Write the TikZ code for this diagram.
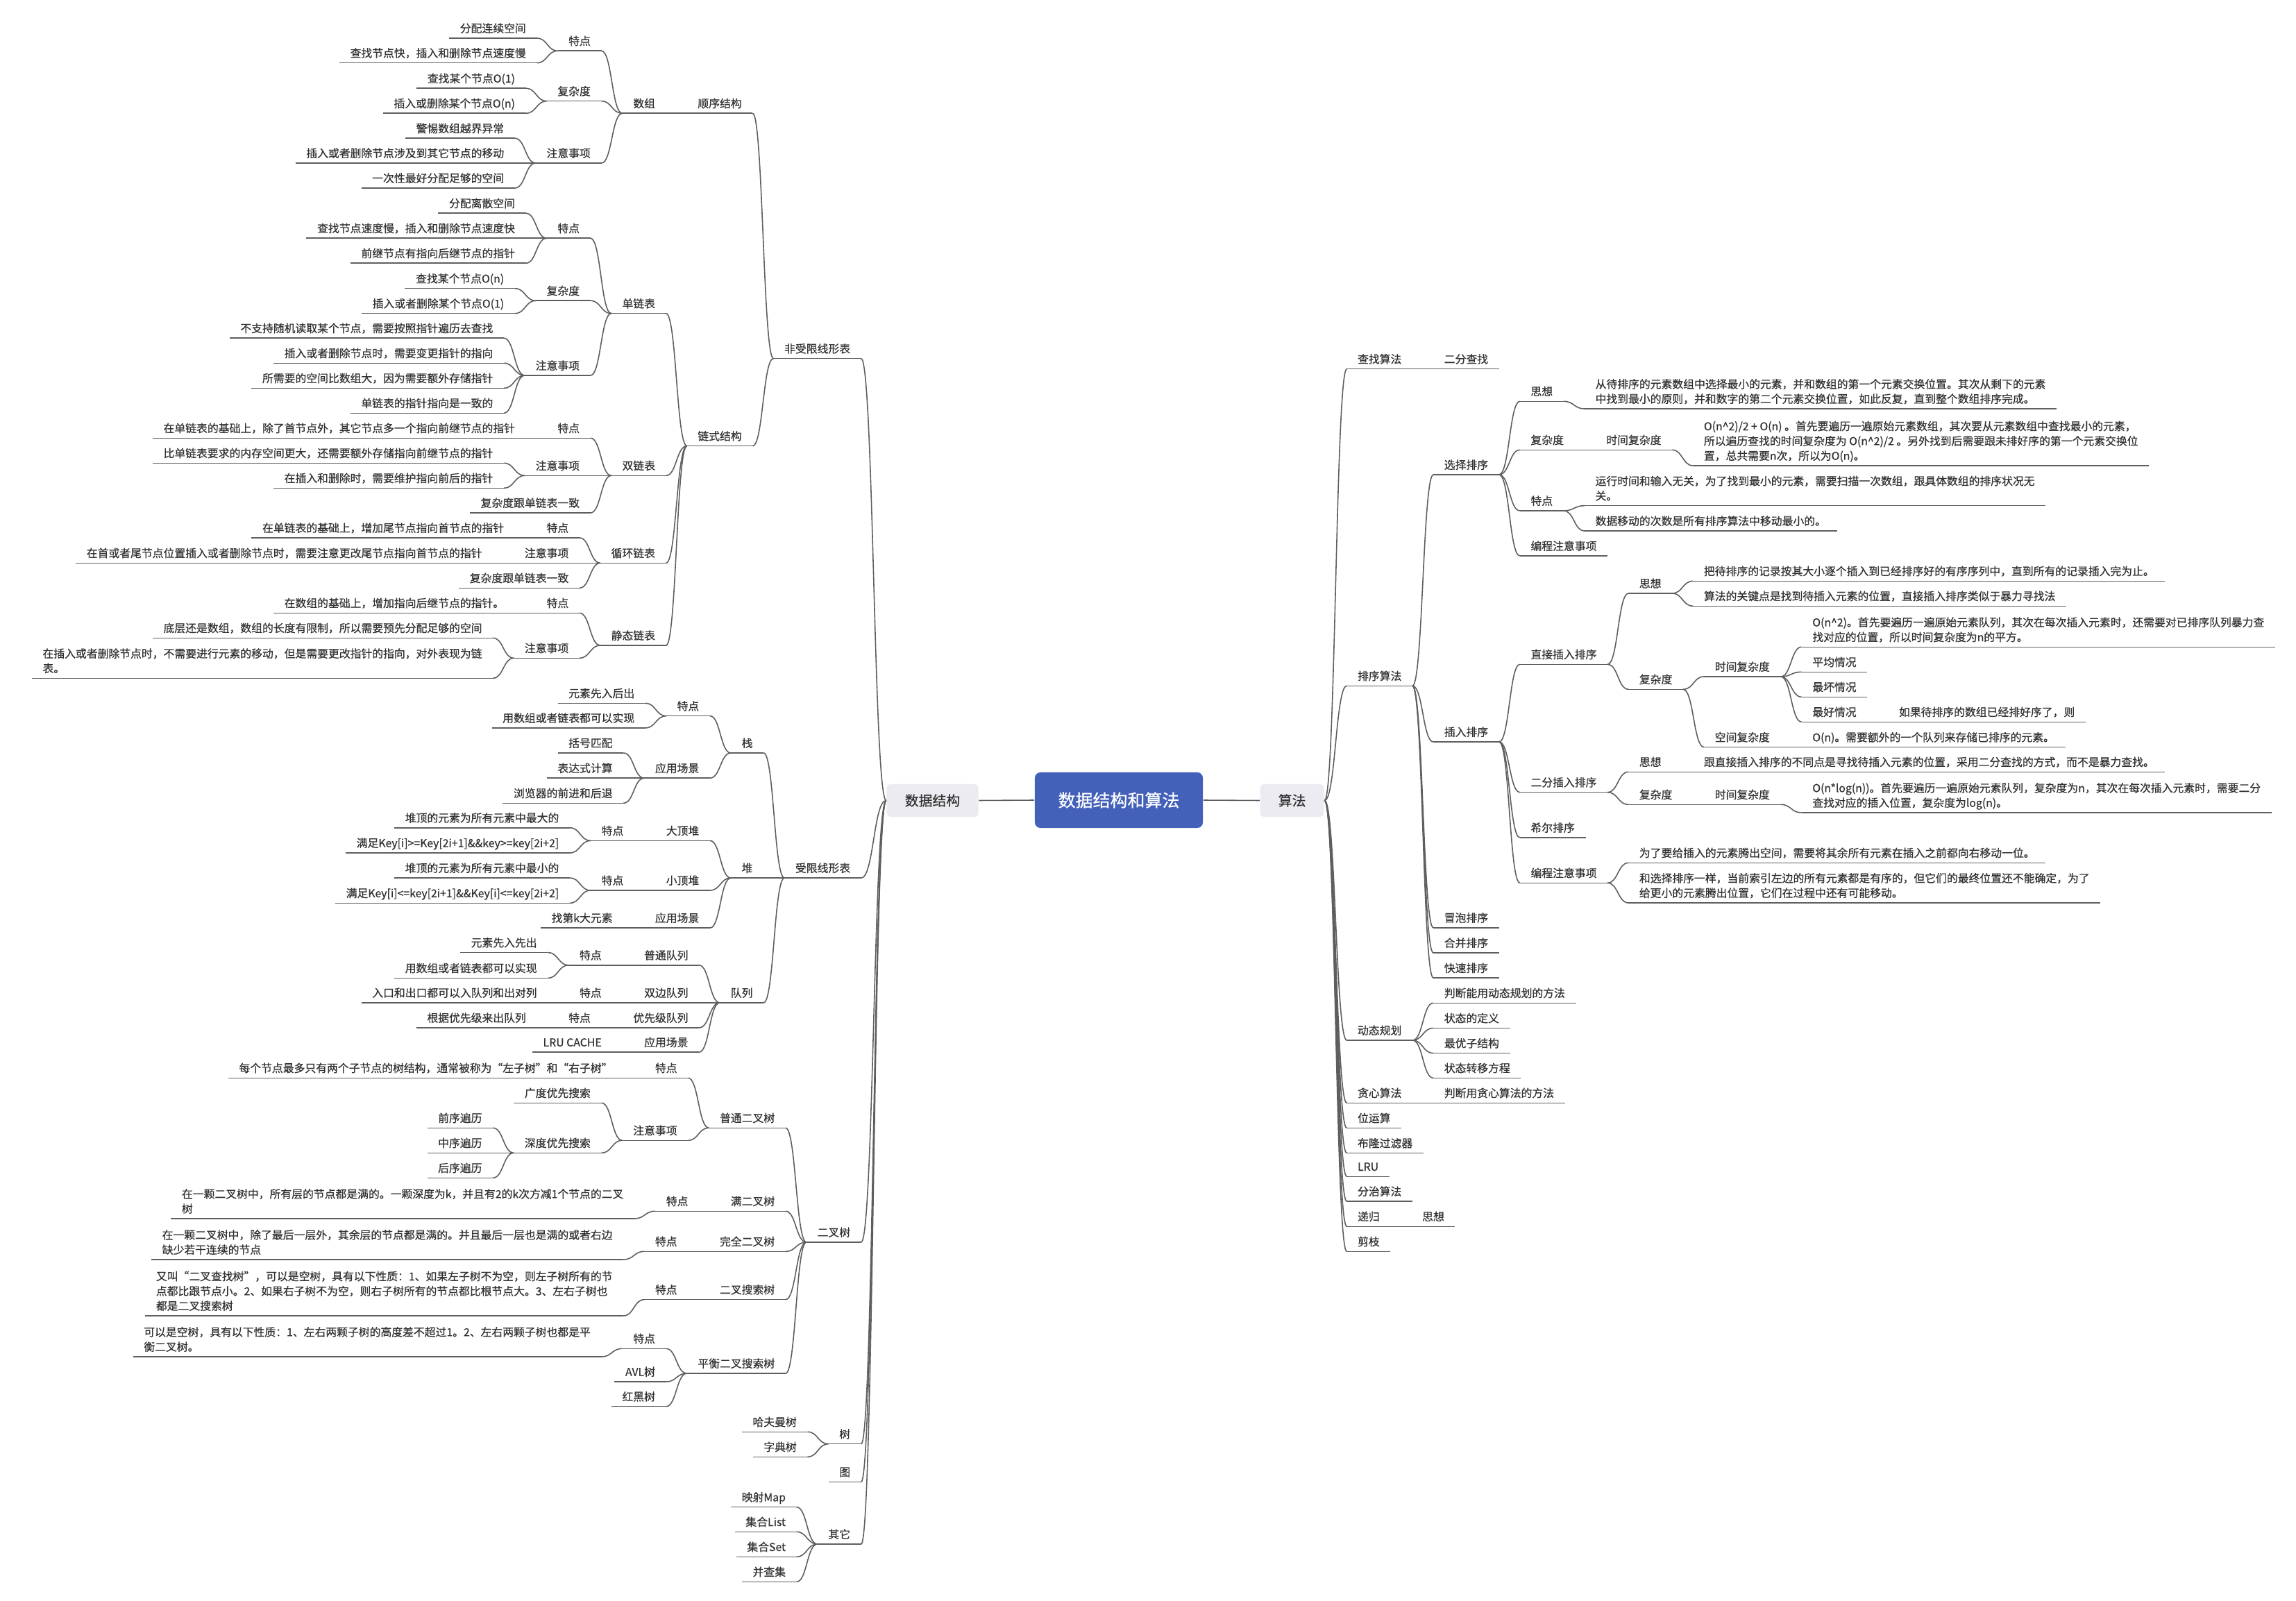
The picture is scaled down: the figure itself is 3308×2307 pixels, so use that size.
\documentclass[tikz,border=0pt]{standalone}
\usepackage{fontspec}
\setmainfont{Noto Sans CJK SC}[FakeBold=0.6]
\usetikzlibrary{calc}
\definecolor{txt}{HTML}{333333}
\definecolor{ln}{HTML}{5E5E5E}
\definecolor{rootc}{HTML}{4361B9}
\definecolor{lonec}{HTML}{EBEBF1}
\newcommand\fsm{\fontsize{4.5pt}{6.06pt}\selectfont}
\def\gapx{30}
\newcommand\Lft[5][]{%
  \coordinate (tmpc) at ($(#3)+(-\gapx,0)$);
  \node[lnode,#1] (#2) at (tmpc |- 0,#4) {#5};
  \draw[edge] (#2.south west) -- (#2.south east);
  \draw[edge] (#3) to[scurve] (#2.south east);
}
\newcommand\Rgt[5][]{%
  \coordinate (tmpc) at ($(#3)+(\gapx,0)$);
  \node[rnode,#1] (#2) at (tmpc |- 0,#4) {#5};
  \draw[edge] (#2.south west) -- (#2.south east);
  \draw[edge] (#3) to[scurve] (#2.south west);
}
\tikzset{
  edge/.style={draw=ln, line width=0.45pt},
  scurve/.style={to path={let \p1=(\tikztostart), \p2=(\tikztotarget) in
     .. controls ({0.5*\x1+0.5*\x2},\y1) and ({0.5*\x1+0.5*\x2},\y2) .. (\tikztotarget)}},
  tnode/.style={font=\fsm, text=txt, inner xsep=0.15cm, inner ysep=0.025cm, text depth=1.45pt},
  lnode/.style={tnode, anchor=south east},
  rnode/.style={tnode, anchor=south west},
}
\begin{document}
\begin{tikzpicture}[x=0.01cm, y=-0.01cm]
\fill[white] (0,0) rectangle (3308,2307);
\useasboundingbox (0,0) rectangle (3308,2307);

% central
\node[fill=rootc, text=white, font=\fontsize{7.1pt}{8pt}\selectfont, rounded corners=0.08cm,
  minimum width=2.42cm, minimum height=0.8cm, inner sep=0] (root) at (1612,1153) {数据结构和算法};
\node[fill=lonec, text=txt, font=\fontsize{5.65pt}{7pt}\selectfont, rounded corners=0.05cm,
  minimum width=1.32cm, minimum height=0.47cm, inner sep=0] (ds) at (1343.5,1153.5) {数据结构};
\node[fill=lonec, text=txt, font=\fontsize{5.65pt}{7pt}\selectfont, rounded corners=0.05cm,
  minimum width=0.92cm, minimum height=0.47cm, inner sep=0] (sf) at (1861.6,1153.5) {算法};
\draw[edge] (root.west) -- (ds.east);
\draw[edge] (root.east) -- (sf.west);

% ================= LEFT =================
\def\gapx{36}
\Lft{A}{ds.west}{516.7}{非受限线形表}
\Lft{B}{ds.west}{1265.1}{受限线形表}
\Lft{C}{ds.west}{1790}{二叉树}
\Lft{T}{ds.west}{2080.7}{树}
\Lft{Gr}{ds.west}{2135.3}{图}
\Lft{O}{ds.west}{2225}{其它}
\def\gapx{30}

% 非受限线形表
\Lft{A1}{A.south west}{163.3}{顺序结构}
\Lft{A11}{A1.south west}{163.3}{数组}
\Lft{A111}{A11.south west}{73.3}{特点}
\Lft{A1111}{A111.south west}{55}{分配连续空间}
\Lft{A1112}{A111.south west}{90.7}{查找节点快，插入和删除节点速度慢}
\Lft{A112}{A11.south west}{145.7}{复杂度}
\Lft{A1121}{A112.south west}{127.3}{查找某个节点O(1)}
\Lft{A1122}{A112.south west}{163.3}{插入或删除某个节点O(n)}
\Lft{A113}{A11.south west}{235}{注意事项}
\Lft{A1131}{A113.south west}{199.3}{警惕数组越界异常}
\Lft{A1132}{A113.south west}{235}{插入或者删除节点涉及到其它节点的移动}
\Lft{A1133}{A113.south west}{271}{一次性最好分配足够的空间}

\Lft{A2}{A.south west}{642.7}{链式结构}
\Lft{A21}{A2.south west}{451.7}{单链表}
\Lft{A211}{A21.south west}{343.3}{特点}
\Lft{A2111}{A211.south west}{307.3}{分配离散空间}
\Lft{A2112}{A211.south west}{343.3}{查找节点速度慢，插入和删除节点速度快}
\Lft{A2113}{A211.south west}{379.3}{前继节点有指向后继节点的指针}
\Lft{A212}{A21.south west}{433.3}{复杂度}
\Lft{A2121}{A212.south west}{415.7}{查找某个节点O(n)}
\Lft{A2122}{A212.south west}{451.7}{插入或者删除某个节点O(1)}
\Lft{A213}{A21.south west}{541}{注意事项}
\Lft{A2131}{A213.south west}{487.3}{不支持随机读取某个节点，需要按照指针遍历去查找}
\Lft{A2132}{A213.south west}{523.3}{插入或者删除节点时，需要变更指针的指向}
\Lft{A2133}{A213.south west}{559.3}{所需要的空间比数组大，因为需要额外存储指针}
\Lft{A2134}{A213.south west}{595.3}{单链表的指针指向是一致的}

\Lft{A22}{A2.south west}{685.3}{双链表}
\Lft{A221}{A22.south west}{631.3}{特点}
\Lft{A2211}{A221.south west}{631.3}{在单链表的基础上，除了首节点外，其它节点多一个指向前继节点的指针}
\Lft{A222}{A22.south west}{685.3}{注意事项}
\Lft{A2221}{A222.south west}{667.3}{比单链表要求的内存空间更大，还需要额外存储指向前继节点的指针}
\Lft{A2222}{A222.south west}{703.3}{在插入和删除时，需要维护指向前后的指针}
\Lft{A223}{A22.south west}{739}{复杂度跟单链表一致}

\Lft{A23}{A2.south west}{811.3}{循环链表}
\Lft{A231}{A23.south west}{775}{特点}
\Lft{A2311}{A231.south west}{775}{在单链表的基础上，增加尾节点指向首节点的指针}
\Lft{A232}{A23.south west}{811.3}{注意事项}
\Lft{A2321}{A232.south west}{811.3}{在首或者尾节点位置插入或者删除节点时，需要注意更改尾节点指向首节点的指针}
\Lft{A233}{A23.south west}{847.3}{复杂度跟单链表一致}

\Lft{A24}{A2.south west}{930}{静态链表}
\Lft{A241}{A24.south west}{883.3}{特点}
\Lft{A2411}{A241.south west}{883.3}{在数组的基础上，增加指向后继节点的指针。}
\Lft{A242}{A24.south west}{948.3}{注意事项}
\Lft{A2421}{A242.south west}{919.3}{底层还是数组，数组的长度有限制，所以需要预先分配足够的空间}
\Lft[align=left]{A2422}{A242.south west}{977.3}{在插入或者删除节点时，不需要进行元素的移动，但是需要更改指针的指向，对外表现为链\\表。}

% 受限线形表
\Lft{B1}{B.south west}{1085}{栈}
\Lft{B11}{B1.south west}{1031.7}{特点}
\Lft{B111}{B11.south west}{1013.4}{元素先入后出}
\Lft{B112}{B11.south west}{1048.9}{用数组或者链表都可以实现}
\Lft{B12}{B1.south west}{1121.2}{应用场景}
\Lft{B121}{B12.south west}{1085}{括号匹配}
\Lft{B122}{B12.south west}{1121.2}{表达式计算}
\Lft{B123}{B12.south west}{1157.3}{浏览器的前进和后退}

\Lft{B2}{B.south west}{1265.1}{堆}
\Lft{B21}{B2.south west}{1211.4}{大顶堆}
\Lft{B211}{B21.south west}{1211.4}{特点}
\Lft{B2111}{B211.south west}{1192.8}{堆顶的元素为所有元素中最大的}
\Lft{B2112}{B211.south west}{1229}{满足Key[i]>=Key[2i+1]\&\&key>=key[2i+2]}
\Lft{B22}{B2.south west}{1283}{小顶堆}
\Lft{B221}{B22.south west}{1283}{特点}
\Lft{B2211}{B221.south west}{1265.1}{堆顶的元素为所有元素中最小的}
\Lft{B2212}{B221.south west}{1301.3}{满足Key[i]<=key[2i+1]\&\&Key[i]<=key[2i+2]}
\Lft{B23}{B2.south west}{1337.1}{应用场景}
\Lft{B231}{B23.south west}{1337.1}{找第k大元素}

\Lft{B3}{B.south west}{1444.9}{队列}
\Lft{B31}{B3.south west}{1390.8}{普通队列}
\Lft{B311}{B31.south west}{1390.8}{特点}
\Lft{B3111}{B311.south west}{1372.6}{元素先入先出}
\Lft{B3112}{B311.south west}{1409.4}{用数组或者链表都可以实现}
\Lft{B32}{B3.south west}{1444.9}{双边队列}
\Lft{B321}{B32.south west}{1444.9}{特点}
\Lft{B3211}{B321.south west}{1444.9}{入口和出口都可以入队列和出对列}
\Lft{B33}{B3.south west}{1481}{优先级队列}
\Lft{B331}{B33.south west}{1481}{特点}
\Lft{B3311}{B331.south west}{1481}{根据优先级来出队列}
\Lft{B34}{B3.south west}{1516.2}{应用场景}
\Lft{B341}{B34.south west}{1516.2}{LRU CACHE}

% 二叉树
\Lft{C1}{C.south west}{1625.3}{普通二叉树}
\Lft{C11}{C1.south west}{1553.3}{特点}
\Lft{C111}{C11.south west}{1553.3}{每个节点最多只有两个子节点的树结构，通常被称为“左子树”和“右子树”}
\Lft{C12}{C1.south west}{1643.3}{注意事项}
\Lft{C121}{C12.south west}{1589.3}{广度优先搜索}
\Lft{C122}{C12.south west}{1661.3}{深度优先搜索}
\Lft{C1221}{C122.south west}{1625.3}{前序遍历}
\Lft{C1222}{C122.south west}{1661.3}{中序遍历}
\Lft{C1223}{C122.south west}{1697.3}{后序遍历}
\Lft{C2}{C.south west}{1745.3}{满二叉树}
\Lft{C21}{C2.south west}{1745.3}{特点}
\Lft[align=left]{C211}{C21.south west}{1756}{在一颗二叉树中，所有层的节点都是满的。一颗深度为k，并且有2的k次方减1个节点的二叉\\树}
\Lft{C3}{C.south west}{1803.3}{完全二叉树}
\Lft{C31}{C3.south west}{1803.3}{特点}
\Lft[align=left]{C311}{C31.south west}{1815}{在一颗二叉树中，除了最后一层外，其余层的节点都是满的。并且最后一层也是满的或者右边\\缺少若干连续的节点}
\Lft{C4}{C.south west}{1872.7}{二叉搜索树}
\Lft{C41}{C4.south west}{1872.7}{特点}
\Lft[align=left]{C411}{C41.south west}{1896}{又叫“二叉查找树”，可以是空树，具有以下性质：1、如果左子树不为空，则左子树所有的节\\点都比跟节点小。2、如果右子树不为空，则右子树所有的节点都比根节点大。3、左右子树也\\都是二叉搜索树}
\Lft{C5}{C.south west}{1979}{平衡二叉搜索树}
\Lft{C51}{C5.south west}{1943.3}{特点}
\Lft[align=left]{C511}{C51.south west}{1955}{可以是空树，具有以下性质：1、左右两颗子树的高度差不超过1。2、左右两颗子树也都是平\\衡二叉树。}
\Lft{C52}{C5.south west}{1991}{AVL树}
\Lft{C53}{C5.south west}{2026.7}{红黑树}

% 树 / 其它
\Lft{T1}{T.south west}{2063.3}{哈夫曼树}
\Lft{T2}{T.south west}{2099.3}{字典树}
\Lft{O1}{O.south west}{2171.7}{映射Map}
\Lft{O2}{O.south west}{2207.3}{集合List}
\Lft{O3}{O.south west}{2243.3}{集合Set}
\Lft{O4}{O.south west}{2279.3}{并查集}

% ================= RIGHT =================
\def\gapx{32}
\Rgt{rC}{sf.east}{531.7}{查找算法}
\Rgt{rD}{sf.east}{988.3}{排序算法}
\Rgt{rE}{sf.east}{1499}{动态规划}
\Rgt{rF}{sf.east}{1589.3}{贪心算法}
\Rgt{rG}{sf.east}{1625.4}{位运算}
\Rgt{rH}{sf.east}{1661.6}{布隆过滤器}
\Rgt{rI}{sf.east}{1695.3}{LRU}
\Rgt{rJ}{sf.east}{1731.1}{分治算法}
\Rgt{rK}{sf.east}{1767.3}{递归}
\Rgt{rL}{sf.east}{1803.4}{剪枝}
\def\gapx{30}

\Rgt{rC1}{rC.south east}{531.7}{二分查找}

\Rgt{rD1}{rD.south east}{684}{选择排序}
\Rgt{rD11}{rD1.south east}{578.3}{思想}
\Rgt[align=left]{rD111}{rD11.south east}{589}{从待排序的元素数组中选择最小的元素，并和数组的第一个元素交换位置。其次从剩下的元素\\中找到最小的原则，并和数字的第二个元素交换位置，如此反复，直到整个数组排序完成。}
\Rgt{rD12}{rD1.south east}{648.3}{复杂度}
\Rgt{rD121}{rD12.south east}{648.3}{时间复杂度}
\Rgt[align=left]{rD1211}{rD121.south east}{671}{O(n\textasciicircum{}2)/2 + O(n) 。首先要遍历一遍原始元素数组，其次要从元素数组中查找最小的元素，\\所以遍历查找的时间复杂度为 O(n\textasciicircum{}2)/2 。另外找到后需要跟未排好序的第一个元素交换位\\置，总共需要n次，所以为O(n)。}
\Rgt{rD13}{rD1.south east}{736}{特点}
\Rgt[align=left]{rD131}{rD13.south east}{728.7}{运行时间和输入无关，为了找到最小的元素，需要扫描一次数组，跟具体数组的排序状况无\\关。}
\Rgt{rD132}{rD13.south east}{765}{数据移动的次数是所有排序算法中移动最小的。}
\Rgt{rD14}{rD1.south east}{801}{编程注意事项}

\Rgt{rD2}{rD.south east}{1069}{插入排序}
\Rgt{rD21}{rD2.south east}{957.3}{直接插入排序}
\Rgt{rD211}{rD21.south east}{855}{思想}
\Rgt{rD2111}{rD211.south east}{837.3}{把待排序的记录按其大小逐个插入到已经排序好的有序序列中，直到所有的记录插入完为止。}
\Rgt{rD2112}{rD211.south east}{873.3}{算法的关键点是找到待插入元素的位置，直接插入排序类似于暴力寻找法}
\Rgt{rD212}{rD21.south east}{993.3}{复杂度}
\Rgt{rD2121}{rD212.south east}{975}{时间复杂度}
\Rgt[align=left]{rD21211}{rD2121.south east}{932.3}{O(n\textasciicircum{}2)。首先要遍历一遍原始元素队列，其次在每次插入元素时，还需要对已排序队列暴力查\\找对应的位置，所以时间复杂度为n的平方。}
\Rgt{rD21212}{rD2121.south east}{968.3}{平均情况}
\Rgt{rD21213}{rD2121.south east}{1004.3}{最坏情况}
\Rgt{rD21214}{rD2121.south east}{1040.3}{最好情况}
\Rgt{rD212141}{rD21214.south east}{1040.3}{如果待排序的数组已经排好序了，则}
\Rgt{rD2122}{rD212.south east}{1076.7}{空间复杂度}
\Rgt{rD21221}{rD2122.south east}{1076.7}{O(n)。需要额外的一个队列来存储已排序的元素。}
\Rgt{rD22}{rD2.south east}{1141.7}{二分插入排序}
\Rgt{rD221}{rD22.south east}{1112.3}{思想}
\Rgt{rD2211}{rD221.south east}{1112.3}{跟直接插入排序的不同点是寻找待插入元素的位置，采用二分查找的方式，而不是暴力查找。}
\Rgt{rD222}{rD22.south east}{1159.3}{复杂度}
\Rgt{rD2221}{rD222.south east}{1159.3}{时间复杂度}
\Rgt[align=left]{rD22211}{rD2221.south east}{1171}{O(n*log(n))。首先要遍历一遍原始元素队列，复杂度为n，其次在每次插入元素时，需要二分\\查找对应的插入位置，复杂度为log(n)。}
\Rgt{rD23}{rD2.south east}{1207}{希尔排序}
\Rgt{rD24}{rD2.south east}{1272.3}{编程注意事项}
\Rgt{rD241}{rD24.south east}{1243.3}{为了要给插入的元素腾出空间，需要将其余所有元素在插入之前都向右移动一位。}
\Rgt[align=left]{rD242}{rD24.south east}{1301}{和选择排序一样，当前索引左边的所有元素都是有序的，但它们的最终位置还不能确定，为了\\给更小的元素腾出位置，它们在过程中还有可能移动。}
\Rgt{rD3}{rD.south east}{1336.8}{冒泡排序}
\Rgt{rD4}{rD.south east}{1373}{合并排序}
\Rgt{rD5}{rD.south east}{1409.2}{快速排序}

\Rgt{rE1}{rE.south east}{1445.3}{判断能用动态规划的方法}
\Rgt{rE2}{rE.south east}{1481.5}{状态的定义}
\Rgt{rE3}{rE.south east}{1517.6}{最优子结构}
\Rgt{rE4}{rE.south east}{1553.4}{状态转移方程}
\Rgt{rF1}{rF.south east}{1589.3}{判断用贪心算法的方法}
\Rgt{rK1}{rK.south east}{1767.3}{思想}
\end{tikzpicture}
\end{document}
